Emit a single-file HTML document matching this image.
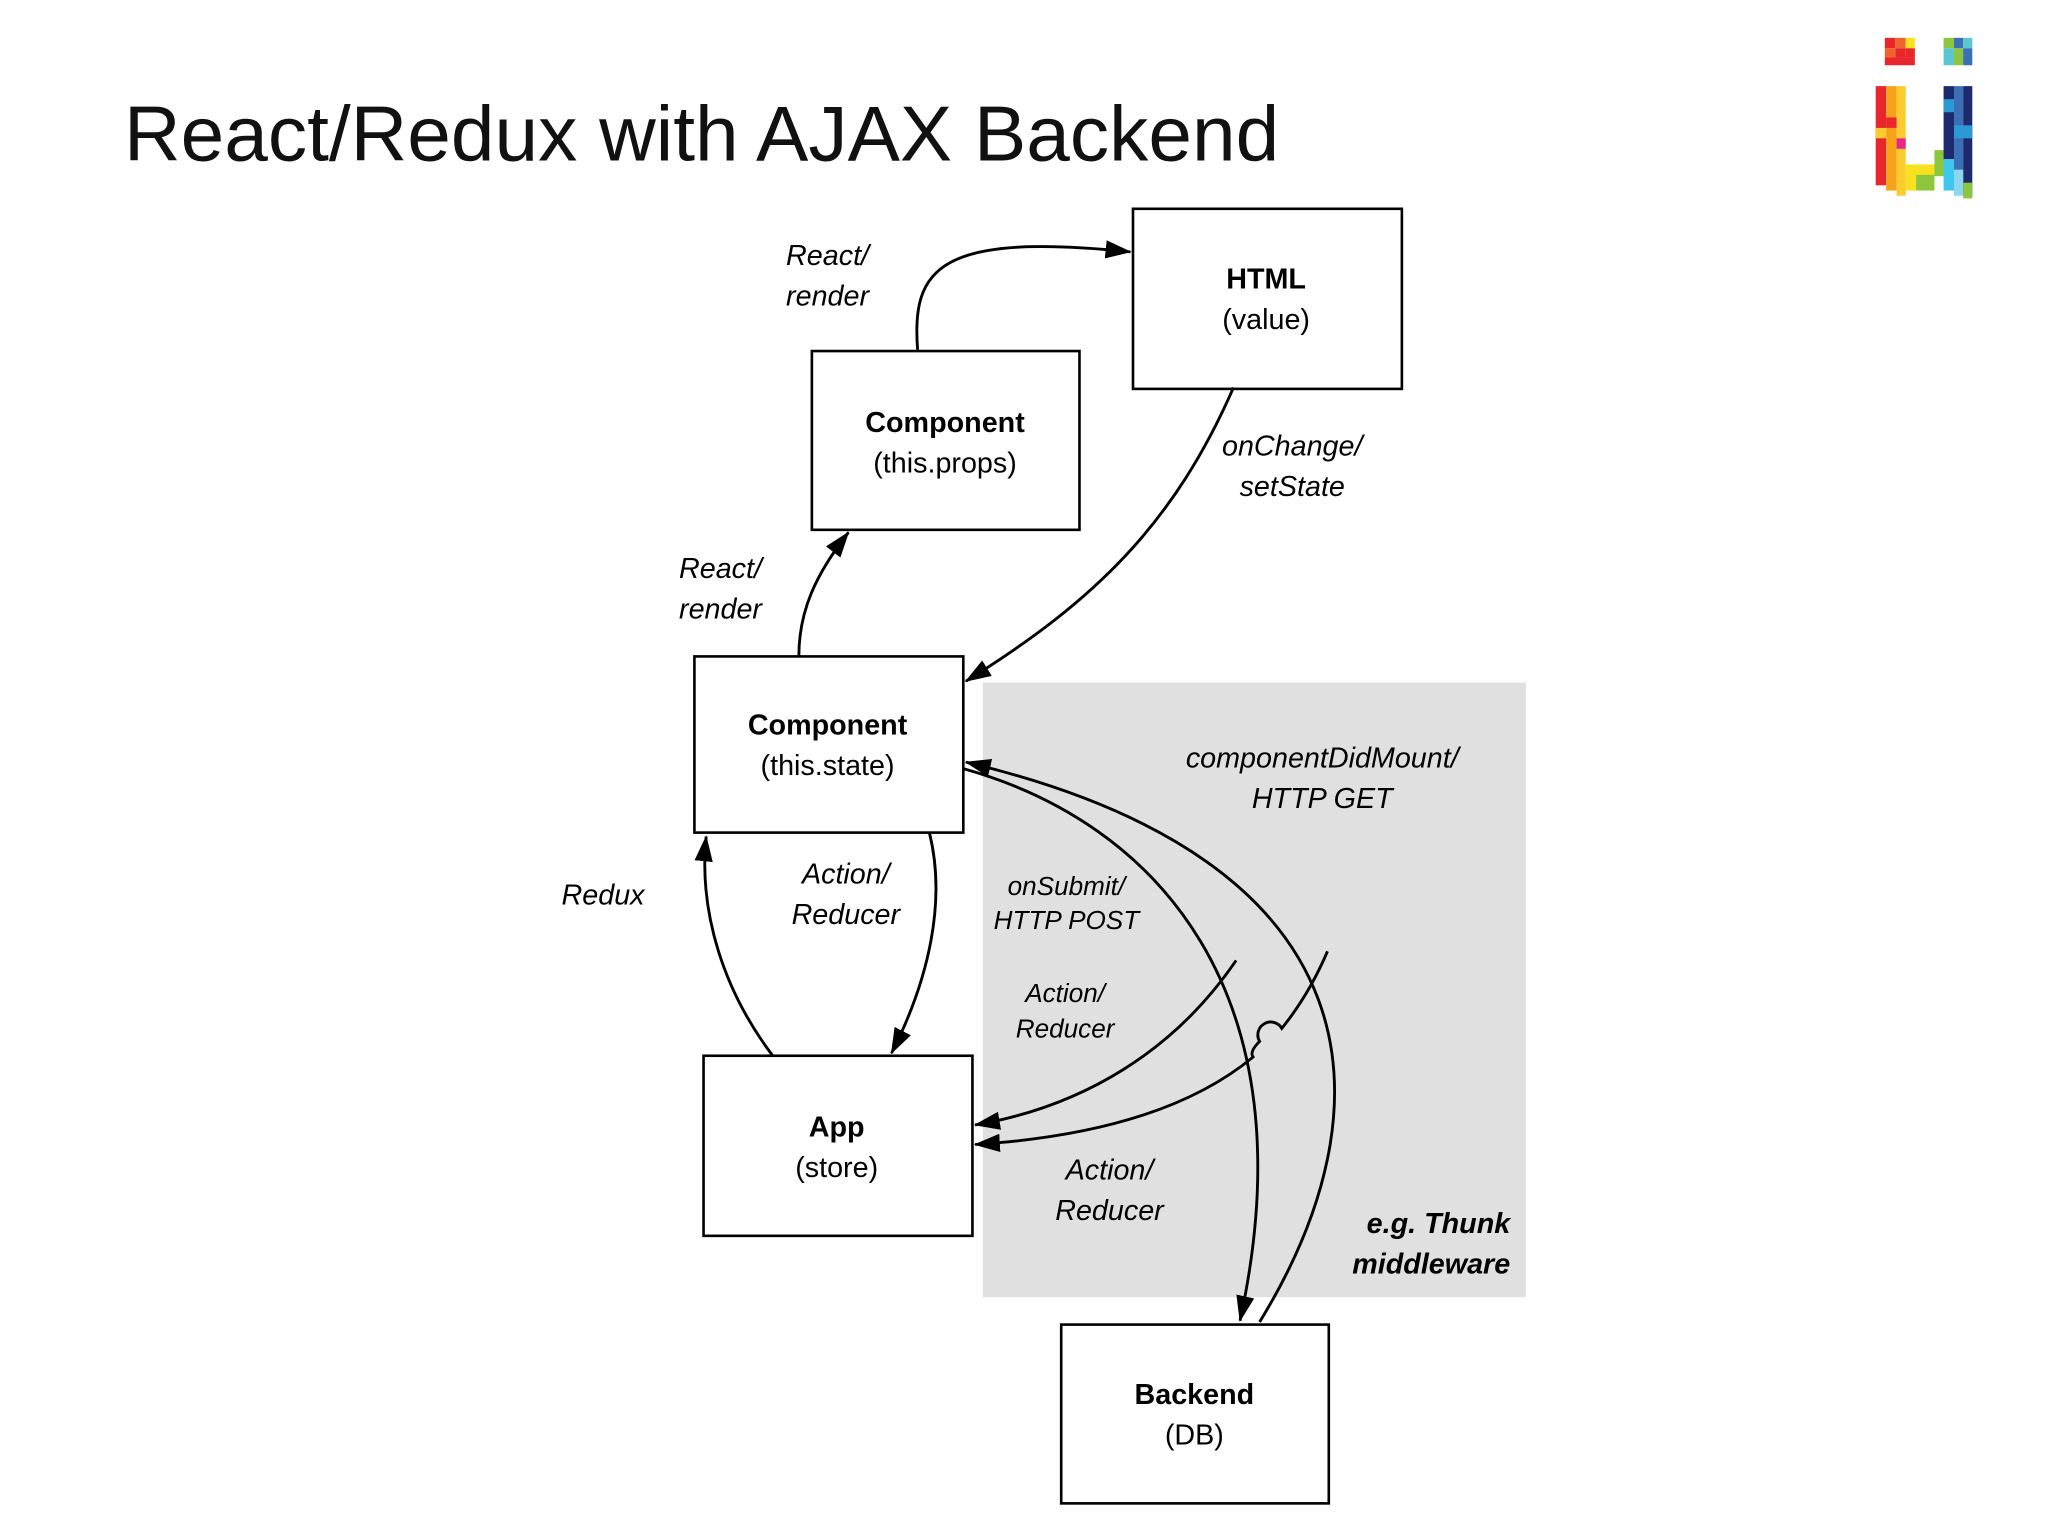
<!DOCTYPE html>
<html><head><meta charset="utf-8">
<style>
html,body{margin:0;padding:0;background:#fff;}
svg{display:block;}
text{font-family:"Liberation Sans",sans-serif;}
.b{font-weight:bold;font-size:22px;}
.r{font-size:22px;}
.i{font-style:italic;font-size:22px;}
.s{font-style:italic;font-size:20px;}
</style></head><body>
<svg width="2048" height="1536" viewBox="0 0 1569 1177" preserveAspectRatio="none" xmlns="http://www.w3.org/2000/svg">
<defs>
<marker id="a" viewBox="0 0 20 14" refX="19" refY="7" markerWidth="20" markerHeight="14" markerUnits="userSpaceOnUse" orient="auto">
<path d="M0,0 L20,7 L0,14 z" fill="#000"/>
</marker>
</defs>
<rect x="0" y="0" width="1569" height="1177" fill="#fff"/>
<text x="95" y="123" font-size="60" fill="#111" textLength="885" lengthAdjust="spacingAndGlyphs">React/Redux with AJAX Backend</text>

<!-- logo -->
<g>
<rect x="1444" y="29" width="8" height="8" fill="#e8262b"/><rect x="1452" y="29" width="8" height="8" fill="#f0632b"/><rect x="1460" y="29" width="7" height="8" fill="#f6e21e"/>
<rect x="1444" y="37" width="8" height="7" fill="#f0632b"/><rect x="1452" y="37" width="8" height="7" fill="#e8262b"/><rect x="1460" y="37" width="7" height="7" fill="#e8262b"/>
<rect x="1444" y="44" width="23" height="6" fill="#e8262b"/>
<rect x="1489" y="29" width="8" height="8" fill="#8cc63f"/><rect x="1497" y="29" width="7" height="8" fill="#3b6fb6"/><rect x="1504" y="29" width="7" height="8" fill="#5cc6d0"/>
<rect x="1489" y="37" width="8" height="13" fill="#5cc6d0"/><rect x="1497" y="37" width="7" height="13" fill="#8cc63f"/><rect x="1504" y="37" width="7" height="13" fill="#3b6fb6"/>
<rect x="1437" y="66" width="8" height="76" fill="#e8262b"/><rect x="1445" y="66" width="8" height="80" fill="#f7a21b"/><rect x="1453" y="66" width="7" height="84" fill="#fccb2f"/>
<rect x="1445" y="90" width="8" height="8" fill="#e8262b"/><rect x="1453" y="106" width="7" height="8" fill="#e8278a"/><rect x="1437" y="98" width="8" height="8" fill="#fccb2f"/>
<rect x="1460" y="126" width="22" height="20" fill="#f6e21e"/><rect x="1468" y="134" width="14" height="12" fill="#8cc63f"/>
<rect x="1482" y="115" width="8" height="20" fill="#8cc63f"/>
<rect x="1489" y="66" width="8" height="56" fill="#1e2a6e"/><rect x="1497" y="66" width="7" height="80" fill="#3b6fb6"/><rect x="1504" y="66" width="7" height="84" fill="#1e2a6e"/>
<rect x="1489" y="76" width="8" height="10" fill="#2b9ad4"/><rect x="1497" y="96" width="14" height="10" fill="#2b9ad4"/><rect x="1489" y="122" width="8" height="24" fill="#3ec7ef"/><rect x="1497" y="130" width="7" height="20" fill="#8cd7ef"/><rect x="1504" y="140" width="7" height="12" fill="#8cc63f"/>
</g>

<!-- gray region -->
<rect x="753" y="523" width="416" height="471" fill="#e0e0e0"/>

<!-- boxes -->
<g fill="#fff" stroke="#000" stroke-width="2">
<rect x="868" y="160" width="206" height="138"/>
<rect x="622" y="269" width="205" height="137"/>
<rect x="532" y="503" width="206" height="135"/>
<rect x="539" y="809" width="206" height="138"/>
<rect x="813" y="1015" width="205" height="137"/>
</g>
<g text-anchor="middle" fill="#000">
<text x="970" y="221" class="b">HTML</text><text x="970" y="252" class="r">(value)</text>
<text x="724" y="331" class="b">Component</text><text x="724" y="362" class="r">(this.props)</text>
<text x="634" y="563" class="b">Component</text><text x="634" y="594" class="r">(this.state)</text>
<text x="641" y="871" class="b">App</text><text x="641" y="902" class="r">(store)</text>
<text x="915" y="1076" class="b">Backend</text><text x="915" y="1107" class="r">(DB)</text>
</g>

<!-- connectors -->
<g fill="none" stroke="#000" stroke-width="2.2">
<path d="M703,268 C698,205 720,178 866,193" marker-end="url(#a)"/>
<path d="M945,297 C900,400 840,460 740,522" marker-end="url(#a)"/>
<path d="M612,503 C612,468 625,440 650,408" marker-end="url(#a)"/>
<path d="M592,809 C555,760 535,700 541,641" marker-end="url(#a)"/>
<path d="M712,638 C725,690 712,750 683,807" marker-end="url(#a)"/>
<path d="M738,589 C885,630 1005,760 950,1012" marker-end="url(#a)"/>
<path d="M965,1013 C1065,850 1060,660 740,584" marker-end="url(#a)"/>
<path d="M947,736 C900,805 830,848 747,862" marker-end="url(#a)"/>
<path d="M1017,729 Q1003,762 982,788 A8,8 0 0 0 965,798 Q957,806 960,810 Q890,868 747,877" marker-end="url(#a)"/>
</g>

<!-- labels -->
<g text-anchor="middle" fill="#000">
<text x="634" y="203" class="i">React/</text><text x="634" y="234" class="i">render</text>
<text x="990" y="349" class="i">onChange/</text><text x="990" y="380" class="i">setState</text>
<text x="552" y="443" class="i">React/</text><text x="552" y="474" class="i">render</text>
<text x="462" y="693" class="i">Redux</text>
<text x="648" y="677" class="i">Action/</text><text x="648" y="708" class="i">Reducer</text>
<text x="1013" y="588" class="i">componentDidMount/</text><text x="1013" y="619" class="i">HTTP GET</text>
<text x="817" y="686" class="s">onSubmit/</text><text x="817" y="712" class="s">HTTP POST</text>
<text x="816" y="768" class="s">Action/</text><text x="816" y="795" class="s">Reducer</text>
<text x="850" y="904" class="i">Action/</text><text x="850" y="935" class="i">Reducer</text>
</g>
<g text-anchor="end" fill="#000">
<text x="1157" y="945" class="i" font-weight="bold">e.g. Thunk</text>
<text x="1157" y="976" class="i" font-weight="bold">middleware</text>
</g>
</svg>
</body></html>
